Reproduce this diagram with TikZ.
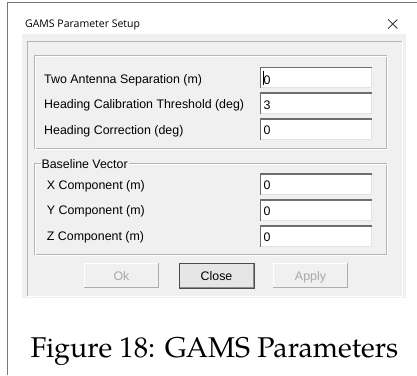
\documentclass[tikz,border=0pt]{standalone}
\usepackage{fontspec}
\setmainfont{Liberation Sans}
\newfontfamily\titlefont{Open Sans}
\newfontfamily\capfont{texgyrepagella-regular.otf}
\definecolor{panel}{HTML}{F0F0F0}
\definecolor{etch}{HTML}{B4B4B4}
\definecolor{frameln}{HTML}{787878}
\definecolor{fielddk}{HTML}{6E6E6E}
\definecolor{fieldlt}{HTML}{E3E3E3}
\definecolor{btnline}{HTML}{ADADAD}
\definecolor{btndis}{HTML}{A8A8A8}
\definecolor{btnfill}{HTML}{E6E6E6}
\begin{document}
\begin{tikzpicture}[x=1pt,y=-1pt,
  ui/.style={font=\fontsize{12.4}{14}\selectfont},
  lbl/.style={ui,anchor=base west,inner sep=0pt},
  field/.style={minimum width=112pt,minimum height=21pt,inner sep=0pt,fill=white},
  btn/.style={ui,minimum width=75pt,minimum height=25pt,inner sep=0pt,text height=9pt,text depth=0pt},
  dis/.style={btn,fill=panel,text=btndis},
  def/.style={btn,fill=btnfill,draw=black!70,line width=1pt},
]
\useasboundingbox (0,0) rectangle (417,375);
\fill[white] (0,0) rectangle (417,375);
% window frame
\draw[frameln,line width=1.6pt] (7.5,375) -- (7.5,2.5) -- (417,2.5);
% title
\node[anchor=base west,inner sep=0pt,font=\titlefont\fontsize{10.5}{12}\selectfont] (title) at (25,27.3) {GAMS Parameter Setup};
\coordinate (xa) at (388.2,19.5); \coordinate (xb) at (397.4,28.5);
\coordinate (xc) at (388.2,28.5); \coordinate (xd) at (397.4,19.5);
\draw[black!75,line width=0.9pt] (xa) -- (xb) (xc) -- (xd);
% client panel
\fill[panel] (22,34) rectangle (406,298);
\draw[etch,line width=1pt] (27,296.5) -- (27,41) -- (402,41);
\draw[white,line width=1pt] (402,41) -- (402,296.5) -- (27,296.5);
% group box 1
\draw[etch,line width=1pt] (34,55) rectangle (386,148);
\draw[white,line width=1pt] (35,56) rectangle (387,149);
% group box 2
\draw[etch,line width=1pt] (34,163) rectangle (386,254);
\draw[white,line width=1pt] (35,164) rectangle (387,255);
\node[lbl,fill=panel,inner xsep=1pt] (bv) at (40.3,168) {Baseline Vector};
% labels
\node[lbl] (l1) at (44,83.3) {Two Antenna Separation (m)};
\node[lbl] (l2) at (44,108.6) {Heading Calibration Threshold (deg)};
\node[lbl] (l3) at (44,134) {Heading Correction (deg)};
\node[lbl] (l4) at (46.7,189) {X Component (m)};
\node[lbl] (l5) at (46.7,214.5) {Y Component (m)};
\node[lbl] (l6) at (46.7,240) {Z Component (m)};
% fields
\node[field] (f1) at (316,77.2) {};
\node[field] (f2) at (316,103) {};
\node[field] (f3) at (316,128.8) {};
\node[field] (f4) at (316,183.8) {};
\node[field] (f5) at (316,210) {};
\node[field] (f6) at (316,236) {};
\foreach \f in {f1,f2,f3,f4,f5,f6}{
  \draw[fieldlt,line width=1pt] ([yshift=0.5pt]\f.south west) -- ([xshift=-0.5pt,yshift=0.5pt]\f.south east) -- ([xshift=-0.5pt]\f.north east);
  \draw[fielddk,line width=1.6pt] ([xshift=0.8pt]\f.south west) -- ([xshift=0.8pt,yshift=-0.8pt]\f.north west) -- ([yshift=-0.8pt]\f.north east);
}
\node[lbl] (v1) at (263.3,84) {0};
\node[lbl] (v2) at (263.3,109) {3};
\node[lbl] (v3) at (263.3,134.6) {0};
\node[lbl] (v4) at (263.3,189.6) {0};
\node[lbl] (v5) at (263.3,215.6) {0};
\node[lbl] (v6) at (263.3,241.6) {0};
\coordinate (ca) at (263.2,70.5); \coordinate (cb) at (263.2,84.5);
\draw[black,line width=0.9pt] (ca) -- (cb);
% buttons
\node[dis] (ok) at (121.5,275.5) {Ok};
\node[def] (close) at (216.5,275.5) {Close};
\node[dis] (apply) at (310.5,275.5) {Apply};
\foreach \b in {ok,apply}{
  \draw[white,line width=1pt] ([xshift=0.5pt]\b.south west) -- ([xshift=0.5pt,yshift=-0.5pt]\b.north west) -- ([yshift=-0.5pt]\b.north east);
  \draw[btnline,line width=1.2pt] ([yshift=0.6pt]\b.south west) -- ([xshift=-0.6pt,yshift=0.6pt]\b.south east) -- ([xshift=-0.6pt]\b.north east);
}
\draw[black!45,line width=1pt] ([xshift=1.5pt,yshift=1.5pt]close.south west) -- ([xshift=-1.5pt,yshift=1.5pt]close.south east) -- ([xshift=-1.5pt,yshift=-1.5pt]close.north east);
% caption
\node[anchor=base,inner sep=0pt,font=\capfont\fontsize{28.6}{32}\selectfont] (cap) at (214.5,357.3) {Figure 18: GAMS Parameters};
\end{tikzpicture}
\end{document}
